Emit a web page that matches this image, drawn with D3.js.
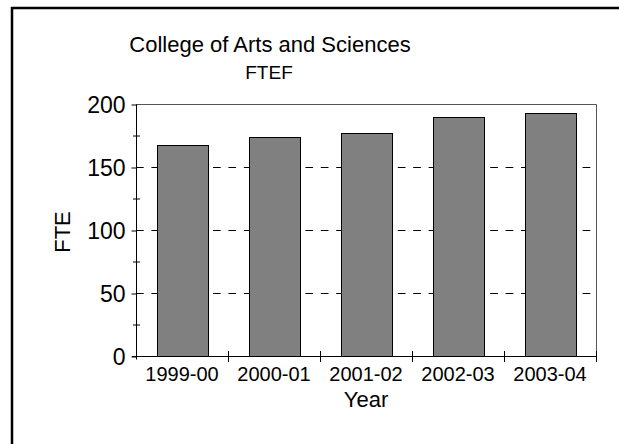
<!DOCTYPE html>
<html>
<head>
<meta charset="utf-8">
<script src="https://cdn.jsdelivr.net/npm/d3@7"></script>
<style>
  html, body { margin: 0; padding: 0; overflow: hidden; background: #fff; }
  svg { display: block; }
  text { font-family: "Liberation Sans", Arial, sans-serif; fill: #000; }
</style>
</head>
<body>
<div id="chart-area"></div>
<script>
// data
var years = ["1999-00", "2000-01", "2001-02", "2002-03", "2003-04"];
var ftef = [167.5, 174, 177, 190, 192.5];
var majorTicks = [0, 50, 100, 150, 200];
var minorTicks = [25, 75, 125, 175];
var gridTicks = [50, 100, 150];

var margin = { left: 136, right: 23, top: 104, bottom: 88 };
var width = 619 - margin.left - margin.right,
    height = 444 - margin.top - margin.bottom;

var svg = d3.select("#chart-area").append("svg")
    .attr("width", 619)
    .attr("height", 444);

// outer frame: only the left and top edges are in the picture
svg.append("path")
    .attr("d", "M12,460V8H640")
    .attr("fill", "none")
    .attr("stroke", "#000")
    .attr("stroke-width", 2.5);

// titles
svg.append("text")
    .attr("x", 270).attr("y", 52)
    .attr("text-anchor", "middle")
    .attr("font-size", "22px")
    .text("College of Arts and Sciences");
svg.append("text")
    .attr("x", 269).attr("y", 79)
    .attr("text-anchor", "middle")
    .attr("font-size", "19px")
    .text("FTEF");

var g = svg.append("g").attr("transform", "translate(" + margin.left + ", " + margin.top + ")");

var x = d3.scaleBand().domain(years).range([0, width])
    .paddingInner(0.45).paddingOuter(0.225);
var y = d3.scaleLinear().domain([0, 200]).range([height, 0]);

// dashed grid lines
g.selectAll(".grid").data(gridTicks).enter().append("line")
    .attr("class", "grid")
    .attr("x1", 0).attr("x2", width)
    .attr("y1", (d) => { return y(d) + 0.5; })
    .attr("y2", (d) => { return y(d) + 0.5; })
    .attr("stroke", "#000")
    .attr("stroke-dasharray", "7.7,7.7");

// top and right border of the plot
g.append("path")
    .attr("d", "M0,0.5H" + (width + 0.5) + "V" + height)
    .attr("fill", "none")
    .attr("stroke", "#555");

// bars
g.selectAll(".bar").data(years).enter().append("rect")
    .attr("class", "bar")
    .attr("x", (d) => { return Math.round(x(d)) + 0.5; })
    .attr("width", Math.round(x.bandwidth()))
    .attr("y", (d, i) => { return Math.round(y(ftef[i])) + 0.5; })
    .attr("height", (d, i) => { return height - Math.round(y(ftef[i])); })
    .attr("fill", "#808080")
    .attr("stroke", "#000");

// y axis
var leftAxis = d3.axisLeft(y).tickValues(majorTicks).tickSize(5).tickPadding(6);
var yAxisGroup = g.append("g").attr("transform", "translate(0.5, 0.5)").call(leftAxis);
yAxisGroup.selectAll("text")
    .attr("font-size", "23px")
    .attr("dy", "0.36em")
    .style("font-family", "Liberation Sans, Arial, sans-serif");
yAxisGroup.select(".domain").attr("d", "M0," + (height + 3) + "V0");

g.selectAll(".minor").data(minorTicks).enter().append("line")
    .attr("class", "minor")
    .attr("x1", -3).attr("x2", 4)
    .attr("y1", (d) => { return y(d) + 0.5; })
    .attr("y2", (d) => { return y(d) + 0.5; })
    .attr("stroke", "#000");

// x axis
var bottomAxis = d3.axisBottom(x).tickSize(0).tickPadding(10);
var xAxisGroup = g.append("g")
    .attr("transform", "translate(0, " + (height + 0.5) + ")")
    .call(bottomAxis);
xAxisGroup.select(".domain").attr("d", "M-4,0H" + (width + 1));
xAxisGroup.selectAll("text")
    .attr("font-size", "20px")
    .style("font-family", "Liberation Sans, Arial, sans-serif");

// tick marks between the categories
var step = x.step();
g.selectAll(".xtick").data(years).enter().append("line")
    .attr("class", "xtick")
    .attr("x1", (d) => { return Math.round(x(d) + x.bandwidth() + (step - x.bandwidth()) / 2) + 0.5; })
    .attr("x2", (d) => { return Math.round(x(d) + x.bandwidth() + (step - x.bandwidth()) / 2) + 0.5; })
    .attr("y1", height - 5)
    .attr("y2", height + 6)
    .attr("stroke", "#000");

// axis labels
g.append("text")
    .attr("x", width / 2)
    .attr("y", height + 51)
    .attr("font-size", "22px")
    .attr("text-anchor", "middle")
    .text("Year");

g.append("text")
    .attr("x", -(height / 2) - 2)
    .attr("y", -66)
    .attr("font-size", "22px")
    .attr("text-anchor", "middle")
    .attr("transform", "rotate(-90)")
    .text("FTE");
</script>
</body>
</html>
